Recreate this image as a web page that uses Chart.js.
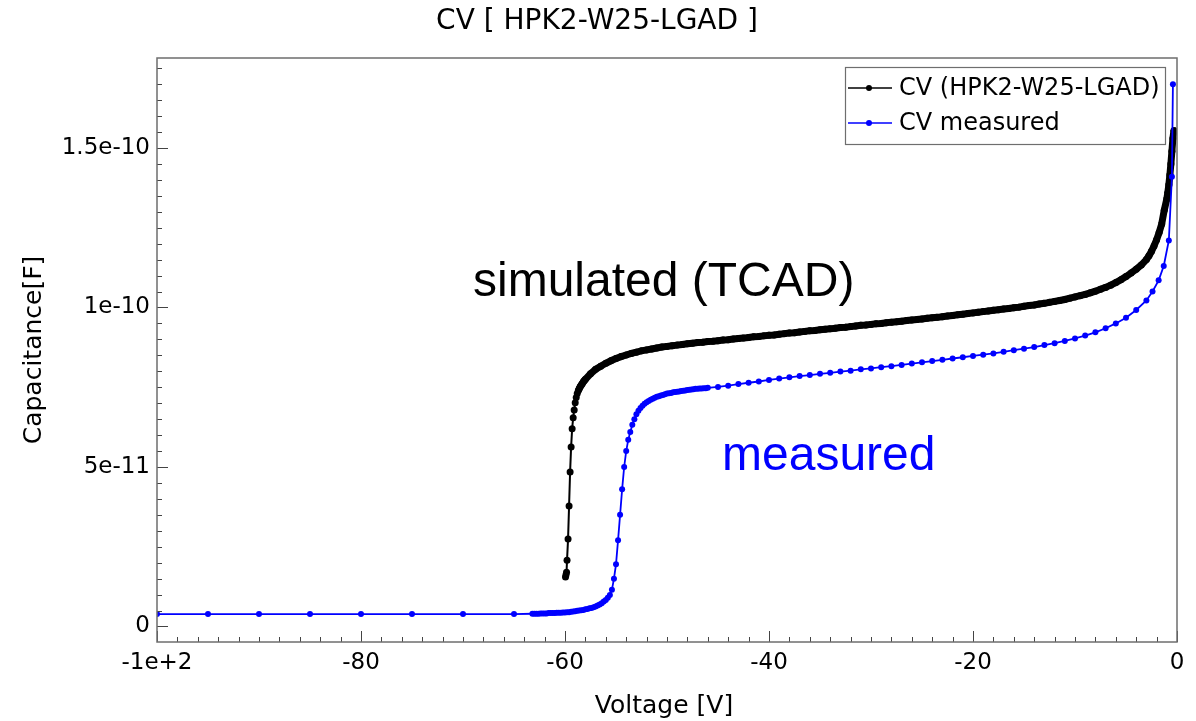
<!DOCTYPE html>
<html>
<head>
<meta charset="utf-8">
<script src="https://cdn.jsdelivr.net/npm/chart.js@4/dist/chart.umd.min.js"></script>
<style>
    html, body { margin: 0; padding: 0; background: #fff; }
    #wrap { width: 1196px; height: 721px; }
</style>
</head>
<body>
<div id="wrap"><canvas id="cvChart" width="1196" height="721"></canvas></div>
<script>
// simulated (TCAD) curve, voltage in V, capacitance in units of 1e-11 F
const simV = [
    -59.95, -59.9, -59.85, -59.8, -59.7, -59.6, -59.5, -59.4, -59.3, -59.2, -59.1,
    -59.0, -58.9, -58.8, -58.7, -58.6, -58.5, -58.4, -58.3, -58.2, -58.1, -58.0,
    -57.5, -57.0, -56.5, -56.0, -55.5, -55.0, -54.5, -54.0, -53.5, -53.0,
    -52.5, -52.0, -51.5, -51.0, -50.5, -50.0, -49.5, -49.0, -48.5, -48.0,
    -47.5, -47.0, -46.5, -46.0, -45.5, -45.0, -44.5, -44.0, -43.5, -43.0,
    -42.5, -42.0, -41.5, -41.0, -40.5, -40.0, -39.5, -39.0, -38.5, -38.0,
    -37.5, -37.0, -36.5, -36.0, -35.5, -35.0, -34.5, -34.0, -33.5, -33.0,
    -32.5, -32.0, -31.5, -31.0, -30.5, -30.0, -29.5, -29.0, -28.5, -28.0,
    -27.5, -27.0, -26.5, -26.0, -25.5, -25.0, -24.5, -24.0, -23.5, -23.0,
    -22.5, -22.0, -21.5, -21.0, -20.5, -20.0, -19.5, -19.0, -18.5, -18.0,
    -17.5, -17.0, -16.5, -16.0, -15.5, -15.0, -14.5, -14.0, -13.5, -13.0,
    -12.5, -12.0, -11.5, -11.0, -10.5, -10.0, -9.5, -9.0, -8.5, -8.0,
    -7.5, -7.0, -6.5, -6.0, -5.5, -5.0, -4.5, -4.0, -3.5, -3.0,
    -2.75, -2.5, -2.25, -2.0, -1.75, -1.5, -1.25, -1.0, -0.9, -0.8, -0.7, -0.6, -0.5, -0.4, -0.3
];
const simC = [
    1.55, 1.62, 1.70, 2.08, 2.74, 3.78, 4.84, 5.63, 6.20, 6.54, 6.79,
    7.01, 7.18, 7.30, 7.39, 7.46, 7.52, 7.57, 7.62, 7.67, 7.71, 7.75,
    7.92, 8.06, 8.16, 8.25, 8.33, 8.40, 8.46, 8.51, 8.56, 8.60,
    8.64, 8.67, 8.70, 8.73, 8.76, 8.78, 8.80, 8.82, 8.84, 8.86,
    8.88, 8.90, 8.91, 8.93, 8.94, 8.96, 8.98, 8.99, 9.01, 9.03,
    9.04, 9.06, 9.08, 9.09, 9.11, 9.13, 9.14, 9.16, 9.18, 9.20,
    9.21, 9.23, 9.25, 9.27, 9.28, 9.30, 9.32, 9.33, 9.35, 9.37,
    9.38, 9.40, 9.42, 9.44, 9.45, 9.47, 9.49, 9.50, 9.52, 9.54,
    9.55, 9.57, 9.59, 9.61, 9.62, 9.64, 9.66, 9.68, 9.69, 9.71,
    9.73, 9.75, 9.77, 9.79, 9.81, 9.83, 9.85, 9.87, 9.89, 9.91,
    9.93, 9.95, 9.97, 9.99, 10.01, 10.04, 10.06, 10.08, 10.11, 10.13,
    10.16, 10.19, 10.22, 10.25, 10.29, 10.33, 10.37, 10.41, 10.46, 10.51,
    10.57, 10.63, 10.70, 10.78, 10.87, 10.97, 11.08, 11.20, 11.33, 11.50,
    11.62, 11.76, 11.93, 12.12, 12.35, 12.62, 13.05, 13.40, 13.60, 13.85, 14.15, 14.50, 14.90, 15.30, 15.55
];

// measured curve, same units
const measV = [
    -100, -95, -90, -85, -80, -75, -70, -65,
    -63.2, -63.0, -62.8, -62.6, -62.4, -62.2, -62.0, -61.8, -61.6, -61.4,
    -61.2, -61.0, -60.8, -60.6, -60.4, -60.2, -60.0, -59.8, -59.6, -59.4,
    -59.2, -59.0, -58.8, -58.6, -58.4, -58.2, -58.0, -57.8, -57.6, -57.4,
    -57.2, -57.0, -56.8, -56.6, -56.4, -56.2, -56.0, -55.8, -55.6, -55.4,
    -55.2, -55.0, -54.8, -54.6, -54.4, -54.2, -54.0, -53.8, -53.6, -53.4,
    -53.2, -53.0, -52.8, -52.6, -52.4, -52.2, -52.0, -51.8, -51.6, -51.4,
    -51.2, -51.0, -50.8, -50.6, -50.4, -50.2, -50.0, -49.8, -49.6, -49.4,
    -49.2, -49.0, -48.8, -48.6, -48.4, -48.2, -48.0, -47.8, -47.6, -47.4,
    -47.2, -47.0, -46.8, -46.6, -46.4, -46.2, -46.0,
    -45, -44, -43, -42, -41, -40, -39, -38, -37, -36,
    -35, -34, -33, -32, -31, -30, -29, -28, -27, -26,
    -25, -24, -23, -22, -21, -20, -19, -18, -17, -16,
    -15, -14, -13, -12, -11, -10, -9, -8, -7, -6,
    -5, -4, -3, -2.4, -1.8, -1.3, -0.8, -0.5, -0.4
];
const measC = [
    0.39, 0.39, 0.39, 0.39, 0.39, 0.39, 0.39, 0.39,
    0.40, 0.40, 0.40, 0.40, 0.41, 0.41, 0.41, 0.41, 0.42, 0.42,
    0.42, 0.42, 0.43, 0.43, 0.43, 0.44, 0.44, 0.45, 0.45, 0.46,
    0.47, 0.48, 0.49, 0.50, 0.51, 0.52, 0.54, 0.55, 0.57, 0.58,
    0.60, 0.63, 0.66, 0.69, 0.73, 0.78, 0.83, 0.90, 0.99, 1.15,
    1.50, 1.95, 2.70, 3.50, 4.30, 5.00, 5.50, 5.85, 6.10, 6.32,
    6.50, 6.65, 6.76, 6.85, 6.92, 6.98, 7.03, 7.07, 7.11, 7.14,
    7.17, 7.20, 7.22, 7.24, 7.26, 7.28, 7.30, 7.31, 7.32, 7.34,
    7.35, 7.36, 7.37, 7.38, 7.39, 7.40, 7.41, 7.42, 7.43, 7.44,
    7.45, 7.45, 7.46, 7.46, 7.47, 7.47, 7.48,
    7.51, 7.55, 7.60, 7.64, 7.68, 7.73, 7.77, 7.81, 7.85, 7.88,
    7.92, 7.95, 7.99, 8.02, 8.06, 8.09, 8.13, 8.16, 8.20, 8.24,
    8.28, 8.32, 8.36, 8.40, 8.44, 8.48, 8.52, 8.56, 8.61, 8.66,
    8.71, 8.76, 8.82, 8.88, 8.95, 9.03, 9.12, 9.22, 9.35, 9.50,
    9.68, 9.92, 10.22, 10.50, 10.85, 11.30, 12.10, 14.10, 17.00
];

const xTicks = [-100, -80, -60, -40, -20, 0];
const xTickLabels = ['-1e+2', '-80', '-60', '-40', '-20', '0'];
const yTicks = [0, 5e-11, 1e-10, 1.5e-10];
const yTickLabels = ['0', '5e-11', '1e-10', '1.5e-10'];

const UNIT = 1e-11;
const toPoints = (vs, cs) => vs.map((v, i) => ({ x: v, y: cs[i] * UNIT }));

const FONT = 'DejaVu Sans';

// frame, inward ticks, legend and the text labels
const decor = {
    id: 'decor',
    afterDraw(chart) {
        const { ctx, chartArea: a, scales } = chart;
        const x = scales.x, y = scales.y;
        ctx.save();

        ctx.strokeStyle = '#444';
        ctx.lineWidth = 1;
        ctx.beginPath();
        for (let i = 0; i <= 50; i++) {
            const px = Math.round(x.getPixelForValue(-100 + i * 2)) + 0.5;
            const len = i % 10 === 0 ? 11 : 5;
            ctx.moveTo(px, a.bottom);
            ctx.lineTo(px, a.bottom - len);
        }
        for (let i = 0; i <= 35; i++) {
            const py = Math.round(y.getPixelForValue(i * 5e-12)) + 0.5;
            const len = i % 10 === 0 ? 11 : 5;
            ctx.moveTo(a.left, py);
            ctx.lineTo(a.left + len, py);
        }
        ctx.stroke();

        ctx.strokeStyle = '#6e6e6e';
        ctx.lineWidth = 1.5;
        ctx.strokeRect(a.left, a.top, a.right - a.left, a.bottom - a.top);

        // legend
        ctx.fillStyle = '#fff';
        ctx.fillRect(845, 67, 321, 78);
        ctx.strokeStyle = '#6e6e6e';
        ctx.lineWidth = 1.2;
        ctx.strokeRect(845.5, 67.5, 320, 77);
        ctx.font = '24px "' + FONT + '"';
        ctx.textBaseline = 'middle';
        ctx.textAlign = 'left';
        chart.data.datasets.forEach((ds, i) => {
            const ly = 88 + i * 35;
            ctx.strokeStyle = ds.borderColor;
            ctx.lineWidth = 1.5;
            ctx.beginPath();
            ctx.moveTo(848, ly);
            ctx.lineTo(892, ly);
            ctx.stroke();
            ctx.fillStyle = ds.borderColor;
            ctx.beginPath();
            ctx.arc(869, ly, 3, 0, Math.PI * 2);
            ctx.fill();
            ctx.fillStyle = '#000';
            ctx.fillText(ds.label, 899, ly + 1);
        });

        // title and axis titles
        ctx.fillStyle = '#000';
        ctx.textAlign = 'center';
        ctx.font = '28px "' + FONT + '"';
        ctx.fillText('CV [ HPK2-W25-LGAD ]', 597, 22);
        ctx.font = '25px "' + FONT + '"';
        ctx.fillText('Voltage [V]', 664, 706);
        ctx.save();
        ctx.translate(34, 350);
        ctx.rotate(-Math.PI / 2);
        ctx.fillText('Capacitance[F]', 0, 0);
        ctx.restore();

        // annotations
        ctx.textAlign = 'left';
        ctx.textBaseline = 'alphabetic';
        ctx.font = '48px "Liberation Sans"';
        ctx.fillStyle = '#000';
        ctx.fillText('simulated (TCAD)', 473, 296);
        ctx.fillStyle = '#0000ff';
        ctx.fillText('measured', 722, 470);

        ctx.restore();
    }
};

new Chart(document.getElementById('cvChart'), {
    type: 'line',
    data: {
        datasets: [
            {
                label: 'CV (HPK2-W25-LGAD)',
                data: toPoints(simV, simC),
                borderColor: '#000000',
                backgroundColor: '#000000',
                borderWidth: 2,
                // the simulation is sampled so densely that its markers merge into a band
                segment: {
                    borderWidth: c => (c.p0.parsed.x >= -58.75 ? 7 : 2)
                },
                pointRadius: 3.5,
                pointBorderWidth: 0,
                pointBackgroundColor: '#000000',
                order: 2
            },
            {
                label: 'CV measured',
                data: toPoints(measV, measC),
                borderColor: '#0000ff',
                backgroundColor: '#0000ff',
                borderWidth: 1.8,
                pointRadius: 3,
                pointBorderWidth: 0,
                pointBackgroundColor: '#0000ff',
                order: 1
            }
        ]
    },
    options: {
        responsive: false,
        animation: false,
        layout: { padding: { top: 58, right: 19, left: 0, bottom: 0 } },
        plugins: {
            legend: { display: false },
            title: { display: false },
            tooltip: { enabled: false }
        },
        scales: {
            x: {
                type: 'linear',
                min: -100,
                max: 0,
                grid: { display: false, drawTicks: false },
                border: { display: false },
                afterBuildTicks: s => { s.ticks = xTicks.map(v => ({ value: v })); },
                afterFit: s => { s.height = 79; },
                ticks: {
                    autoSkip: false,
                    maxRotation: 0,
                    padding: 7,
                    color: '#000',
                    font: { family: FONT, size: 23 },
                    callback: (v, i) => xTickLabels[i]
                }
            },
            y: {
                type: 'linear',
                min: -4.86e-12,
                max: 1.782e-10,
                grid: { display: false, drawTicks: false },
                border: { display: false },
                afterBuildTicks: s => { s.ticks = yTicks.map(v => ({ value: v })); },
                afterFit: s => { s.width = 157; },
                ticks: {
                    autoSkip: false,
                    padding: 7,
                    color: '#000',
                    font: { family: FONT, size: 23 },
                    callback: (v, i) => yTickLabels[i]
                }
            }
        }
    },
    plugins: [decor]
});
</script>
</body>
</html>
